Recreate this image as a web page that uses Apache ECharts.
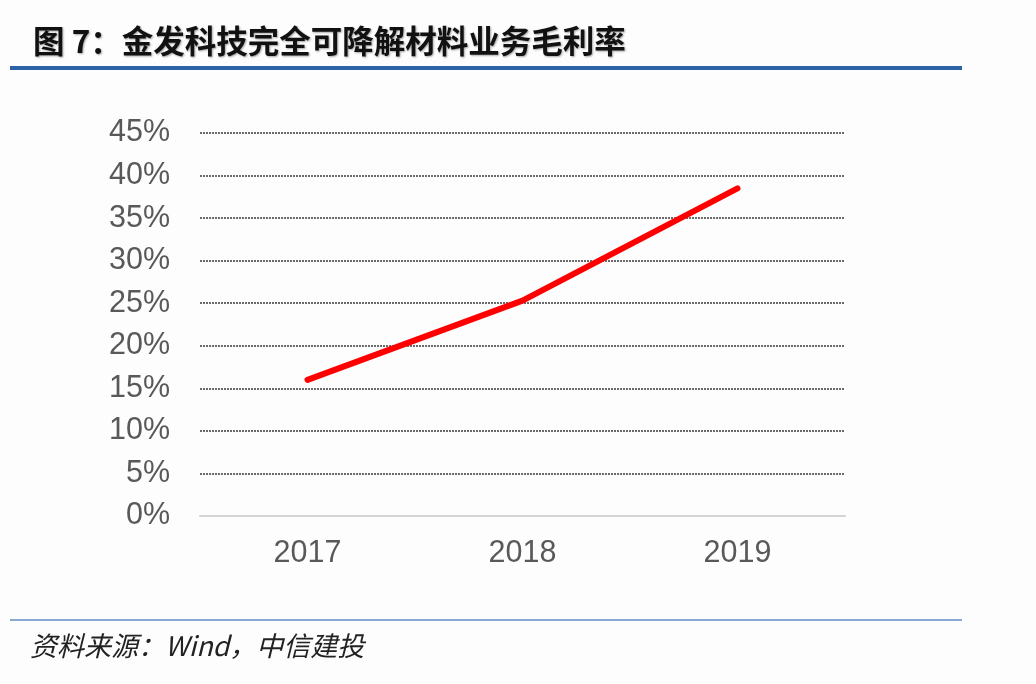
<!DOCTYPE html>
<html><head><meta charset="utf-8">
<script src="https://cdn.jsdelivr.net/npm/echarts@6/dist/echarts.min.js"></script>
<style>html,body{margin:0;padding:0;background:#fdfdfe;}#c{width:1036px;height:684px;}</style>
</head><body><div id="c"></div>
<script>
const categories = ['2017', '2018', '2019'];
const grossMargin = [16.0, 25.3, 38.5];
const yTicks = [0, 5, 10, 15, 20, 25, 30, 35, 40, 45];
const titleText = '图 7：金发科技完全可降解材料业务毛利率';
const sourceText = '资料来源：Wind，中信建投';

const chart = echarts.init(document.getElementById('c'), null, {renderer: 'canvas'});
chart.setOption({
  backgroundColor: '#fdfdfe',
  animation: false,
  title: {
    text: titleText, left: 28, top: 20,
    textStyle: {fontFamily: 'Noto Sans CJK SC', fontWeight: 'bold', fontSize: 31.5, color: '#111',
      textShadowColor: 'rgba(0,0,0,0.35)', textShadowBlur: 2, textShadowOffsetX: 1, textShadowOffsetY: 1}
  },
  graphic: [
    {type: 'rect', shape: {x: 10, y: 66, width: 952, height: 4}, style: {fill: '#2c62a6'}},
    {type: 'rect', shape: {x: 10, y: 619, width: 952, height: 2}, style: {fill: '#8aa8d2'}},
    {type: 'text', left: 30, top: 632, style: {text: sourceText, font: 'italic 27px "Noto Sans CJK SC"', fill: '#222'}}
  ],
  grid: {left: 200, right: 191, top: 133, bottom: 168, containLabel: false},
  xAxis: {
    type: 'category', data: categories, boundaryGap: true,
    axisLine: {show: true, lineStyle: {color: '#d4d4d4', width: 2}},
    axisTick: {show: false},
    axisLabel: {color: '#595959', fontSize: 30.5, fontFamily: 'Liberation Sans', margin: 22}
  },
  yAxis: {
    type: 'value', min: 0, max: 45, interval: 5,
    axisLine: {show: false}, axisTick: {show: false},
    axisLabel: {color: '#595959', fontSize: 30.5, fontFamily: 'Liberation Sans', margin: 30,
      formatter: v => yTicks.includes(v) ? v + '%' : ''},
    splitLine: {show: true, lineStyle: {color: '#6a6a6a', type: [2, 1], width: 2}}
  },
  series: [{
    type: 'line', data: grossMargin, showSymbol: false, symbol: 'none',
    lineStyle: {color: '#ff0000', width: 6, cap: 'round'}
  }]
});
</script></body></html>
